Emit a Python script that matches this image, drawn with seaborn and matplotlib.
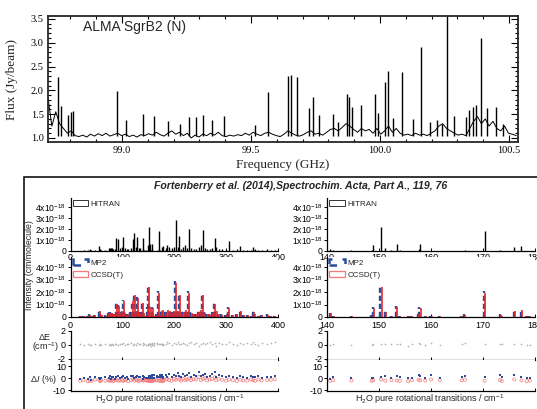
import numpy as np
import pandas as pd
import matplotlib
matplotlib.use('Agg')
import matplotlib.pyplot as plt
import matplotlib.transforms as mtransforms
from matplotlib.patches import Patch, Rectangle
from matplotlib.ticker import FuncFormatter, MultipleLocator
import seaborn as sns

W, H = 537, 409

# ALMA SgrB2(N) spectrum: baseline channels (Jy/beam) and line peaks
SPEC_START, SPEC_END = 98.713, 100.528
BASE_FLUX = [
    1.85, 1.25, 1.55, 1.30, 1.20, 1.10, 1.15, 1.05, 1.03, 1.06,
    1.02, 1.08, 1.04, 1.09, 1.05, 1.10, 1.04, 1.07, 1.10, 1.05,
    1.08, 1.03, 1.06, 1.02, 1.07, 1.05, 1.09, 1.06, 1.12, 1.07,
    1.04, 1.10, 1.15, 1.08, 1.12, 1.05, 1.10, 1.00, 1.06, 1.02,
    1.08, 1.05, 1.10, 1.06, 1.12, 1.05, 1.03, 1.06, 1.04, 1.07,
    1.05, 1.10, 1.06, 1.12, 1.08, 1.05, 1.10, 1.12, 1.08, 1.05,
    1.03, 1.08, 1.15, 1.10, 1.06, 1.04, 1.07, 1.12, 1.15, 1.08,
    1.10, 1.06, 1.12, 1.18, 1.20, 1.15, 1.22, 1.30, 1.25, 1.18,
    1.12, 1.20, 1.15, 1.18, 1.10, 1.20, 1.08, 1.15, 1.25, 1.12,
    1.20, 1.10, 1.06, 1.08, 1.05, 1.10, 1.06, 1.08, 1.05, 1.10,
    1.15, 1.25, 1.30, 1.20, 1.15, 1.10, 1.06, 1.08, 1.05, 1.20,
    1.35, 1.45, 1.30, 1.40, 1.25, 1.35, 1.20, 1.15, 1.25, 1.10,
    1.08, 1.05,
]
PEAK_FREQ = [
    98.753, 98.764, 98.792, 98.802, 98.809, 98.982, 99.016, 99.080, 99.125, 99.180,
    99.225, 99.260, 99.285, 99.315, 99.350, 99.395, 99.515, 99.565, 99.645, 99.655,
    99.677, 99.726, 99.742, 99.765, 99.819, 99.838, 99.871, 99.880, 99.890, 99.926,
    99.981, 99.991, 100.019, 100.032, 100.052, 100.084, 100.129, 100.158, 100.194, 100.222,
    100.239, 100.261, 100.287, 100.333, 100.346, 100.362, 100.372, 100.391, 100.413, 100.450,
    100.475,
]
PEAK_FLUX = [
    2.27, 1.67, 1.48, 1.55, 1.56, 1.99, 1.37, 1.51, 1.46, 1.35,
    1.30, 1.44, 1.44, 1.49, 1.37, 1.46, 1.27, 1.97, 2.30, 2.33,
    2.28, 1.62, 1.86, 1.48, 1.51, 1.34, 1.93, 1.85, 1.65, 1.69,
    1.93, 1.53, 2.17, 2.41, 1.41, 2.38, 1.39, 2.91, 1.34, 1.37,
    1.30, 3.56, 1.46, 1.44, 1.58, 1.65, 1.69, 3.09, 1.62, 1.64,
    1.30,
]

# H2O pure rotational transitions (cm-1), intensities in 1e-18 cm/molecule
TRANS_FREQ = [
    18.6, 25.1, 32.9, 37.1, 40.3, 47.1, 55.4, 57.3, 59.0, 67.3,
    73.3, 75.5, 78.2, 79.5, 82.1, 85.6, 88.1, 92.5, 95.2, 99.1,
    101.5, 104.6, 108.1, 111.1, 116.8, 120.1, 122.9, 126.7, 129.1, 131.8,
    134.9, 139.5, 140.6, 141.2, 144.7, 148.6, 148.9, 150.4, 151.2, 152.4,
    153.4, 154.0, 155.6, 156.3, 157.6, 157.9, 158.9, 160.0, 161.7, 165.9,
    166.5, 170.3, 173.3, 173.6, 176.0, 177.4, 178.4, 179.0, 183.5, 186.2,
    190.1, 194.9, 199.3, 202.6, 206.3, 209.7, 213.1, 217.0, 221.2, 225.0,
    228.4, 232.3, 237.2, 242.0, 247.1, 251.3, 255.4, 258.6, 263.2, 268.1,
    273.0, 277.9, 280.6, 285.4, 292.0, 299.8, 305.2, 313.0, 320.3, 327.5,
    333.1, 341.0, 348.2, 352.0, 355.6, 362.1, 368.4, 379.2, 386.0, 393.4,
]
HITRAN = [
    0.03, 0.05, 0.08, 0.15, 0.05, 0.10, 0.45, 0.15, 0.10, 0.10,
    0.25, 0.30, 0.30, 0.25, 0.20, 0.15, 1.15, 1.05, 0.25, 0.40,
    1.30, 0.30, 0.15, 0.20, 0.30, 1.10, 1.60, 0.40, 1.30, 0.30,
    0.30, 1.20, 0.15, 0.05, 0.05, 0.10, 0.55, 2.20, 0.30, 0.05,
    0.65, 0.05, 0.03, 0.03, 0.15, 0.65, 0.03, 0.03, 0.03, 0.03,
    0.08, 1.80, 0.10, 0.03, 0.35, 0.45, 0.03, 0.03, 0.30, 0.50,
    0.40, 0.30, 0.40, 2.80, 0.40, 1.40, 0.20, 0.35, 0.50, 0.30,
    2.00, 0.30, 0.20, 0.20, 0.35, 0.50, 1.90, 0.30, 0.20, 0.15,
    0.30, 1.15, 0.40, 0.20, 0.15, 0.10, 0.95, 0.10, 0.20, 0.45,
    0.10, 0.10, 0.08, 0.35, 0.20, 0.08, 0.10, 0.15, 0.05, 0.08,
]
MP2 = [
    0.06, 0.10, 0.12, 0.25, 0.10, 0.18, 0.55, 0.22, 0.18, 0.15,
    0.32, 0.40, 0.38, 0.35, 0.28, 0.22, 1.10, 0.95, 0.35, 0.50,
    1.35, 0.40, 0.22, 0.28, 0.40, 1.30, 1.85, 0.50, 1.60, 0.40,
    0.40, 1.20, 0.32, 0.10, 0.06, 0.15, 0.80, 2.50, 0.45, 0.06,
    0.85, 0.06, 0.06, 0.06, 0.28, 0.80, 0.06, 0.06, 0.06, 0.06,
    0.22, 2.05, 0.22, 0.06, 0.50, 0.62, 0.06, 0.06, 0.40, 0.60,
    0.50, 0.40, 0.50, 2.90, 0.50, 1.80, 0.28, 0.45, 0.60, 0.40,
    2.05, 0.40, 0.28, 0.28, 0.45, 0.60, 1.90, 0.40, 0.28, 0.22,
    0.40, 1.10, 0.50, 0.28, 0.22, 0.18, 0.80, 0.18, 0.28, 0.55,
    0.18, 0.18, 0.12, 0.45, 0.28, 0.12, 0.18, 0.22, 0.10, 0.12,
]
CCSD_T = [
    0.05, 0.08, 0.10, 0.20, 0.08, 0.15, 0.50, 0.20, 0.15, 0.12,
    0.30, 0.35, 0.35, 0.30, 0.25, 0.20, 1.05, 0.90, 0.30, 0.45,
    1.30, 0.35, 0.20, 0.25, 0.35, 1.25, 1.75, 0.45, 1.55, 0.35,
    0.35, 1.15, 0.30, 0.08, 0.05, 0.12, 0.75, 2.40, 0.43, 0.05,
    0.80, 0.05, 0.05, 0.05, 0.25, 0.75, 0.05, 0.05, 0.05, 0.05,
    0.20, 1.95, 0.20, 0.05, 0.45, 0.60, 0.05, 0.05, 0.35, 0.55,
    0.45, 0.35, 0.45, 2.75, 0.45, 1.75, 0.25, 0.40, 0.55, 0.35,
    1.95, 0.35, 0.25, 0.25, 0.40, 0.55, 1.80, 0.35, 0.25, 0.20,
    0.35, 1.05, 0.45, 0.25, 0.20, 0.15, 0.75, 0.15, 0.25, 0.50,
    0.15, 0.15, 0.10, 0.40, 0.25, 0.10, 0.15, 0.20, 0.08, 0.10,
]
DELTA_E = [
    0.05, -0.02, 0.08, 0.03, -0.05, 0.10, 0.02, 0.06, -0.03, 0.12,
    0.04, 0.09, -0.06, 0.15, 0.02, 0.07, 0.18, -0.04, 0.11, 0.05,
    0.20, -0.03, 0.13, 0.08, 0.25, 0.01, 0.16, -0.08, 0.22, 0.10,
    0.05, 0.28, 0.02, 0.12, 0.04, -0.05, 0.10, 0.15, 0.08, 0.18,
    0.06, 0.12, -0.10, 0.09, 0.20, 0.14, 0.03, 0.30, -0.05, 0.10,
    0.22, 0.08, 0.12, 0.05, 0.18, 0.07, -0.06, 0.04, 0.15, 0.35,
    0.20, -0.05, 0.25, 0.10, 0.40, 0.18, 0.05, 0.30, 0.12, -0.08,
    0.22, 0.35, 0.10, 0.28, -0.10, 0.15, 0.32, 0.05, 0.20, 0.45,
    0.08, 0.25, -0.12, 0.30, 0.12, 0.05, 0.38, 0.15, -0.05, 0.28,
    0.10, 0.22, 0.05, 0.40, 0.12, -0.08, 0.30, 0.15, 0.25, 0.35,
]
DELTA_I_MP2 = [
    -1.0, 0.5, -0.5, 0.8, -1.2, 1.0, 0.2, -0.8, 0.6, 1.2,
    0.0, 1.5, -0.6, 0.9, 1.2, -0.3, 0.8, 1.6, 0.4, 1.0,
    1.8, 0.2, 1.2, -0.4, 1.5, 2.0, 0.6, 1.4, 2.2, 0.8,
    1.0, 1.6, -0.5, 0.8, 0.2, 0.5, 0.3, 1.2, 2.0, 0.5,
    1.5, 0.8, -0.2, 0.6, 2.5, 1.8, 0.4, 3.0, 0.2, 0.9,
    2.2, 1.0, 2.6, 1.0, 2.8, 0.8, 0.6, 0.5, 2.5, 1.2,
    3.5, 1.0, 2.8, 1.5, 4.0, 2.2, 0.8, 3.2, 1.5, 2.6,
    4.5, 1.2, 3.0, 2.0, 5.0, 1.8, 2.5, 3.5, 1.0, 2.2,
    3.8, 5.5, 1.2, 2.8, 1.5, 0.8, 2.0, 1.2, 0.6, 1.5,
    1.0, 0.5, 1.8, 1.2, 0.8, 1.5, 0.6, 1.0, 1.2, 2.0,
]
DELTA_I_CCSD = [
    -2.0, -1.5, -2.5, -1.8, -2.2, -1.2, -1.8, -2.4, -1.6, -2.0,
    -1.5, -2.2, -1.8, -1.0, -2.5, -1.6, -1.2, -2.0, -1.8, -1.4,
    -2.2, -1.6, -1.0, -2.4, -1.5, -0.8, -2.0, -1.2, -1.6, -2.2,
    -1.8, -1.0, -2.0, -1.5, -1.8, -2.2, -1.6, -1.0, -2.0, -1.5,
    -1.8, -2.2, -2.5, -1.5, -1.2, -1.8, -2.0, -1.0, -1.6, -1.8,
    -1.2, -2.0, -1.5, -2.2, -1.0, -1.8, -2.4, -2.0, -1.0, -0.5,
    -1.5, -2.0, -0.8, -1.2, 0.5, -1.0, -2.0, -0.5, -1.5, -1.0,
    -0.2, -1.5, -0.8, -1.0, 1.0, -1.6, -0.5, 0.2, -1.8, -1.0,
    -0.6, 0.8, -1.6, -0.5, -1.2, -2.0, -1.0, -1.5, -2.2, -1.2,
    -1.8, -2.0, -1.0, -1.5, -2.2, -1.0, -1.8, -1.5, -1.2, -0.8,
]

BLUE = '#2b4c9b'
RED = '#e3242b'
PINK = '#f27a7a'
SANS = ['Liberation Sans', 'DejaVu Sans']
SERIF = ['Liberation Serif', 'DejaVu Serif']

sns.set_theme(style='ticks', rc={'axes.unicode_minus': False,
                                 'mathtext.fontset': 'custom',
                                 'mathtext.rm': 'Liberation Sans',
                                 'mathtext.it': 'Liberation Sans:italic',
                                 'mathtext.bf': 'Liberation Sans:bold'})
plt.rcParams['font.family'] = SANS

fig = plt.figure(figsize=(W / 100, H / 100), dpi=100)


def px_axes(x0, y0, x1, y1):
    return fig.add_axes([x0 / W, 1 - y1 / H, (x1 - x0) / W, (y1 - y0) / H])


def px_text(x, y, s, **kw):
    return fig.text(x / W, 1 - y / H, s, **kw)


# ---------------- top panel: ALMA spectrum ----------------
spec = pd.DataFrame({'freq': np.linspace(SPEC_START, SPEC_END, len(BASE_FLUX)),
                     'flux': BASE_FLUX})
ax = px_axes(48, 16, 518, 142)
sns.lineplot(data=spec, x='freq', y='flux', color='black', lw=0.7, ax=ax)
ax.vlines(PEAK_FREQ, 1.04, PEAK_FLUX, color='black', lw=1.0)
ax.set_xlim(98.713, 100.535)
ax.set_ylim(0.916, 3.56)
ax.xaxis.set_major_locator(MultipleLocator(0.5))
ax.xaxis.set_minor_locator(MultipleLocator(0.1))
ax.yaxis.set_major_locator(MultipleLocator(0.5))
ax.yaxis.set_minor_locator(MultipleLocator(0.1))
ax.xaxis.set_major_formatter(FuncFormatter(lambda v, p: f'{v:.1f}'))
ax.yaxis.set_major_formatter(FuncFormatter(lambda v, p: f'{v:.1f}'))
ax.tick_params(which='both', direction='in', top=True, right=True,
               labelsize=7.5, width=0.8, pad=3, colors='black')
ax.tick_params(which='major', length=5)
ax.tick_params(which='minor', length=2.5)
for s in ax.spines.values():
    s.set_linewidth(1.3)
ax.set_xlabel('')
ax.set_ylabel('')
plt.setp(ax.get_xticklabels() + ax.get_yticklabels(), fontfamily=SERIF)
px_text(283, 165, 'Frequency (GHz)', fontsize=9.5, family=SERIF, ha='center', va='center')
px_text(12, 80, 'Flux (Jy/beam)', fontsize=9.5, family=SERIF, ha='center', va='center',
        rotation=90)
px_text(83, 27, 'ALMA SgrB2 (N)', fontsize=10, ha='left', va='center')

# ---------------- bottom panel: frame and title ----------------
fig.add_artist(Rectangle((24 / W, -0.05), 1.05, 1 - 177 / H + 0.05,
                         transform=fig.transFigure, fill=False, ec='black',
                         lw=1.1, clip_on=False))
px_text(301, 186, 'Fortenberry et al. (2014),Spectrochim. Acta, Part A., 119, 76',
        fontsize=7.6, fontweight='bold', fontstyle='italic', ha='center', va='center')
px_text(30, 265, 'Intensity (cm/molecule)', fontsize=6.3, rotation=90,
        ha='center', va='center')
px_text(45, 337, 'ΔE', fontsize=6.5, ha='center', va='center')
px_text(45, 347, '(cm$^{-1}$)', fontsize=6.5, ha='center', va='center')
px_text(43, 379, 'Δ$\\mathit{I}$ (%)', fontsize=6.5, ha='center', va='center')

trans = pd.DataFrame({'freq': TRANS_FREQ, 'hitran': HITRAN, 'mp2': MP2,
                      'ccsd': CCSD_T, 'dE': DELTA_E, 'dI_mp2': DELTA_I_MP2,
                      'dI_ccsd': DELTA_I_CCSD})


def intensity_fmt(v, pos):
    if abs(v) < 1e-9:
        return '0'
    return f'{v:.0f}x10$^{{-18}}$'


def style_axes(a, xlim, xstep, labels=True):
    a.set_xlim(*xlim)
    a.xaxis.set_major_locator(MultipleLocator(xstep))
    for side in ('top', 'right'):
        a.spines[side].set_visible(False)
    for side in ('left', 'bottom'):
        a.spines[side].set_linewidth(0.9)
        a.spines[side].set_color('black')
    a.tick_params(axis='x', direction='in', length=2.5, width=0.7,
                  labelsize=6.5, pad=1.5, labelbottom=labels, colors='black')
    a.tick_params(axis='y', direction='out', length=2, width=0.7,
                  labelsize=6.2, pad=1.2, colors='black')
    a.set_xlabel('')
    a.set_ylabel('')


panels = [((70.5, 278), (0, 400), 100, 170), ((327, 535), (140, 180), 10, 430)]
blue_shift = mtransforms.ScaledTranslation(-0.6 / 100, 0, fig.dpi_scale_trans)
red_shift = mtransforms.ScaledTranslation(0.5 / 100, 0, fig.dpi_scale_trans)

for (x0, x1), xlim, xstep, xlab in panels:
    # HITRAN sticks
    a1 = px_axes(x0, 198, x1, 251)
    a1.vlines(trans['freq'], 0, trans['hitran'], color='black', lw=1.0)
    a1.set_ylim(0, 4.8)
    a1.yaxis.set_major_locator(MultipleLocator(1))
    a1.yaxis.set_major_formatter(FuncFormatter(intensity_fmt))
    style_axes(a1, xlim, xstep)
    a1.legend(handles=[Patch(facecolor='none', edgecolor='#333333', lw=0.7,
                             label='HITRAN')],
              loc='upper left', frameon=False, fontsize=5.8, handlelength=1.9,
              handleheight=0.7, borderaxespad=0.2, borderpad=0.1, handletextpad=0.3)

    # MP2 / CCSD(T) sticks
    a2 = px_axes(x0, 257, x1, 317)
    a2.vlines(trans['freq'], 0, trans['mp2'], color=BLUE, lw=1.7,
              linestyles=(0, (2.2, 1.2)), transform=a2.transData + blue_shift)
    a2.vlines(trans['freq'], 0, trans['ccsd'], color=RED, lw=1.2,
              transform=a2.transData + red_shift)
    a2.set_ylim(0, 4.8)
    a2.yaxis.set_major_locator(MultipleLocator(1))
    a2.yaxis.set_major_formatter(FuncFormatter(intensity_fmt))
    style_axes(a2, xlim, xstep)
    a2.tick_params(axis='x', pad=3)
    a2.legend(handles=[Patch(facecolor='none', edgecolor=BLUE, lw=1.8,
                             linestyle=(0, (3, 4)), label='MP2'),
                       Patch(facecolor='none', edgecolor=PINK, lw=0.9,
                             label='CCSD(T)')],
              loc='upper left', frameon=False, fontsize=5.8, handlelength=1.9,
              handleheight=0.7, borderaxespad=0.2, borderpad=0.1,
              handletextpad=0.3, labelspacing=0.5)

    # Delta E
    a3 = px_axes(x0, 331, x1, 360)
    sns.scatterplot(data=trans, x='freq', y='dE', ax=a3, color='#b5b5b5',
                    marker='+', s=4, linewidth=0.5, legend=False)
    a3.set_ylim(-2.2, 2.0)
    a3.set_yticks([-2, 0, 2])
    style_axes(a3, xlim, xstep, labels=False)
    a3.tick_params(axis='y', labelsize=6.5)

    # Delta I
    a4 = px_axes(x0, 360, x1, 391)
    sns.scatterplot(data=trans, x='freq', y='dI_ccsd', ax=a4, facecolor='none',
                    edgecolor=PINK, marker='o', s=5, linewidth=0.5, legend=False)
    sns.scatterplot(data=trans, x='freq', y='dI_mp2', ax=a4, color=BLUE,
                    marker='s', s=2.5, linewidth=0, legend=False)
    a4.set_ylim(-10.5, 15)
    a4.set_yticks([-10, 0, 10])
    style_axes(a4, xlim, xstep, labels=False)
    a4.tick_params(axis='y', labelsize=6.5)

    px_text(xlab, 399, 'H$_2$O pure rotational transitions / cm$^{-1}$',
            fontsize=6.5, ha='center', va='center')

fig.savefig('out.png', dpi=100)
